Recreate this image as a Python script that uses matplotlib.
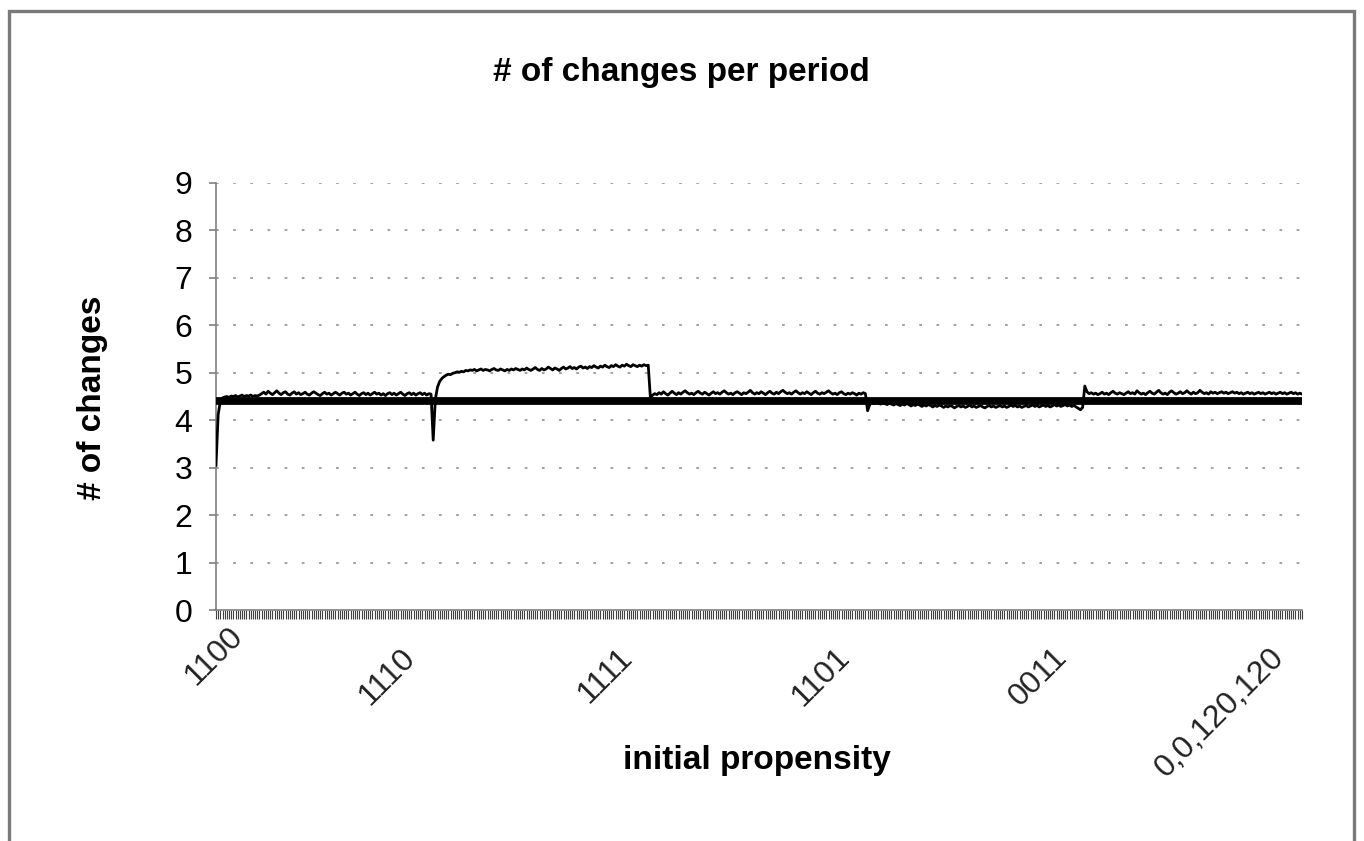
import numpy as np
import matplotlib
matplotlib.use("Agg")
import matplotlib.pyplot as plt
from matplotlib.patches import Rectangle
from matplotlib.transforms import ScaledTranslation

plt.rcParams['font.family'] = ['Liberation Sans', 'DejaVu Sans']

# Category labels shown on the x axis (one every 100 periods)
tick_labels = ['1100', '1110', '1111', '1101', '0011', '0,0,120,120']
tick_index = [0, 100, 200, 300, 400, 500]

# Number of changes per period, one block per initial propensity
changes_1100 = [
    3.05, 4.12, 4.40, 4.47, 4.49, 4.50, 4.48, 4.51, 4.50, 4.52,
    4.49, 4.51, 4.53, 4.50, 4.52, 4.51, 4.53, 4.50, 4.52, 4.51,
    4.53, 4.56, 4.59, 4.55, 4.61, 4.57, 4.54, 4.58, 4.62, 4.57,
    4.54, 4.58, 4.60, 4.55, 4.53, 4.57, 4.60, 4.55, 4.58, 4.54,
    4.56, 4.59, 4.55, 4.53, 4.57, 4.60, 4.57, 4.54, 4.52, 4.56,
    4.59, 4.55, 4.57, 4.53, 4.56, 4.59, 4.56, 4.53, 4.57, 4.59,
    4.55, 4.57, 4.53, 4.56, 4.59, 4.55, 4.52, 4.56, 4.58, 4.54,
    4.57, 4.53, 4.56, 4.59, 4.55, 4.57, 4.53, 4.56, 4.52, 4.56,
    4.58, 4.54, 4.57, 4.53, 4.56, 4.59, 4.55, 4.52, 4.56, 4.58,
    4.54, 4.57, 4.53, 4.56, 4.58, 4.54, 4.57, 4.53, 4.56, 4.55,
]
changes_1110 = [
    3.58, 4.45, 4.70, 4.82, 4.88, 4.92, 4.95, 4.97, 4.96, 4.99,
    5.00, 5.02, 5.01, 5.03, 5.02, 5.05, 5.04, 5.06, 5.05, 5.07,
    5.04, 5.06, 5.08, 5.05, 5.07, 5.06, 5.04, 5.07, 5.09, 5.06,
    5.05, 5.08, 5.06, 5.04, 5.07, 5.05, 5.08, 5.06, 5.09, 5.07,
    5.05, 5.08, 5.06, 5.10, 5.07, 5.05, 5.08, 5.11, 5.07, 5.05,
    5.09, 5.06, 5.08, 5.12, 5.09, 5.06, 5.10, 5.08, 5.05, 5.09,
    5.12, 5.08, 5.10, 5.13, 5.09, 5.11, 5.08, 5.12, 5.14, 5.10,
    5.12, 5.09, 5.13, 5.11, 5.15, 5.12, 5.10, 5.14, 5.12, 5.16,
    5.13, 5.11, 5.15, 5.13, 5.17, 5.14, 5.12, 5.16, 5.14, 5.18,
    5.15, 5.13, 5.17, 5.15, 5.13, 5.16, 5.14, 5.17, 5.15, 5.16,
]
changes_1111 = [
    4.47, 4.53, 4.56, 4.54, 4.58, 4.55, 4.60, 4.56, 4.53, 4.57,
    4.61, 4.57, 4.54, 4.58, 4.55, 4.59, 4.62, 4.58, 4.55, 4.57,
    4.54, 4.58, 4.61, 4.57, 4.55, 4.59, 4.56, 4.53, 4.57, 4.60,
    4.56, 4.58, 4.55, 4.59, 4.62, 4.58, 4.55, 4.57, 4.54, 4.58,
    4.60, 4.57, 4.54, 4.58, 4.56, 4.59, 4.63, 4.58, 4.55, 4.58,
    4.56, 4.60, 4.57, 4.54, 4.58, 4.61, 4.57, 4.55, 4.59, 4.56,
    4.60, 4.63, 4.59, 4.56, 4.58, 4.55, 4.59, 4.62, 4.58, 4.55,
    4.58, 4.56, 4.60, 4.57, 4.54, 4.58, 4.61, 4.57, 4.55, 4.58,
    4.56, 4.59, 4.62, 4.58, 4.55, 4.57, 4.54, 4.58, 4.60, 4.56,
    4.54, 4.57, 4.55, 4.58, 4.56, 4.53, 4.57, 4.55, 4.58, 4.56,
]
changes_1101 = [
    4.20, 4.33, 4.37, 4.35, 4.38, 4.36, 4.34, 4.37, 4.35, 4.33,
    4.36, 4.34, 4.32, 4.35, 4.33, 4.31, 4.34, 4.32, 4.35, 4.33,
    4.30, 4.33, 4.31, 4.34, 4.32, 4.29, 4.32, 4.30, 4.33, 4.31,
    4.28, 4.31, 4.29, 4.32, 4.30, 4.27, 4.30, 4.28, 4.31, 4.29,
    4.26, 4.29, 4.31, 4.28, 4.30, 4.27, 4.29, 4.32, 4.28, 4.30,
    4.27, 4.29, 4.31, 4.28, 4.26, 4.29, 4.31, 4.28, 4.30, 4.27,
    4.29, 4.31, 4.28, 4.30, 4.27, 4.29, 4.32, 4.29, 4.31, 4.28,
    4.30, 4.27, 4.29, 4.31, 4.28, 4.30, 4.32, 4.29, 4.31, 4.28,
    4.30, 4.32, 4.29, 4.31, 4.28, 4.30, 4.33, 4.30, 4.32, 4.29,
    4.31, 4.33, 4.30, 4.32, 4.29, 4.31, 4.28, 4.25, 4.22, 4.27,
]
changes_0011 = [
    4.72, 4.60, 4.56, 4.58, 4.55, 4.57, 4.54, 4.56, 4.59, 4.55,
    4.57, 4.54, 4.58, 4.61, 4.57, 4.55, 4.58, 4.56, 4.54, 4.57,
    4.60, 4.56, 4.58, 4.55, 4.62, 4.58, 4.55, 4.57, 4.54, 4.58,
    4.61, 4.57, 4.55, 4.59, 4.63, 4.58, 4.55, 4.57, 4.54, 4.59,
    4.62, 4.58, 4.55, 4.57, 4.60, 4.56, 4.58, 4.62, 4.58, 4.55,
    4.59, 4.56, 4.58, 4.63, 4.59, 4.56, 4.58, 4.55, 4.60, 4.57,
    4.59, 4.56, 4.58, 4.60, 4.57, 4.59, 4.56, 4.58, 4.60, 4.57,
    4.59, 4.56, 4.58, 4.55, 4.57, 4.59, 4.56, 4.58, 4.55, 4.57,
    4.59, 4.56, 4.58, 4.55, 4.57, 4.59, 4.56, 4.58, 4.55, 4.57,
    4.59, 4.56, 4.58, 4.55, 4.57, 4.59, 4.56, 4.58, 4.55, 4.57,
]
changes_final = [4.55]

# Reference level drawn as a heavy horizontal line
reference_level = 4.4

changes = np.array(changes_1100 + changes_1110 + changes_1111 +
                   changes_1101 + changes_0011 + changes_final)
periods = np.arange(len(changes))
reference = np.full(len(changes), reference_level)

W, H = 1364, 841
fig = plt.figure(figsize=(W / 100, H / 100), dpi=100)
fig.patch.set_facecolor('white')

# outer chart border
fig.add_artist(Rectangle((9 / W, -0.05), (1353.5 - 9) / W, 1.05 - 11 / H,
                         transform=fig.transFigure, fill=False,
                         edgecolor='#7a7a7a', linewidth=2.4, clip_on=False))

ax = fig.add_axes([216 / W, 1 - 610 / H, (1302 - 216) / W, (610 - 183) / H])
ax.set_xlim(0, len(changes) - 1)
ax.set_ylim(0, 9)

ax.plot(periods, reference, color='black', linewidth=5.6, solid_capstyle='butt', zorder=3)
ax.plot(periods, changes, color='black', linewidth=2.0, zorder=4)

# dotted horizontal grid
ax.set_yticks(range(0, 10))
for v in range(1, 10):
    ax.axhline(v, color='#9a9a9a', linewidth=1.3, linestyle=(0, (1.5, 8)), zorder=1)

for s in ['top', 'right']:
    ax.spines[s].set_visible(False)
for s in ['left', 'bottom']:
    ax.spines[s].set_color('#808080')
    ax.spines[s].set_linewidth(1.2)

ax.tick_params(axis='y', direction='out', length=5, width=1.2, color='#808080',
               pad=12, labelsize=23, labelcolor='black')
ax.set_xticks(tick_index)
ax.set_xticklabels([])
ax.set_xticks(periods, minor=True)
ax.tick_params(axis='x', which='both', direction='out', length=6.5, width=0.8,
               color='#404040')

# rotated category labels; the first one sits closer to the axis
for idx, lab in zip(tick_index, tick_labels):
    if idx == 0:
        offset = ScaledTranslation(0.22, -0.22, fig.dpi_scale_trans)
    else:
        offset = ScaledTranslation(-0.22, -0.43, fig.dpi_scale_trans)
    ax.text(idx, 0, lab, transform=ax.get_xaxis_transform() + offset,
            rotation=45, rotation_mode='anchor', ha='right', va='center',
            fontsize=23, color='#222222')

fig.text(681 / W, 1 - 72 / H, '# of changes per period', ha='center', va='center',
         fontsize=24, fontweight='bold')
fig.text(757 / W, 1 - 760 / H, 'initial propensity', ha='center', va='center',
         fontsize=24, fontweight='bold')
fig.text(92 / W, 1 - 398 / H, '# of changes', ha='center', va='center',
         rotation=90, fontsize=24, fontweight='bold')

fig.savefig('out.png', dpi=100, facecolor='white')
